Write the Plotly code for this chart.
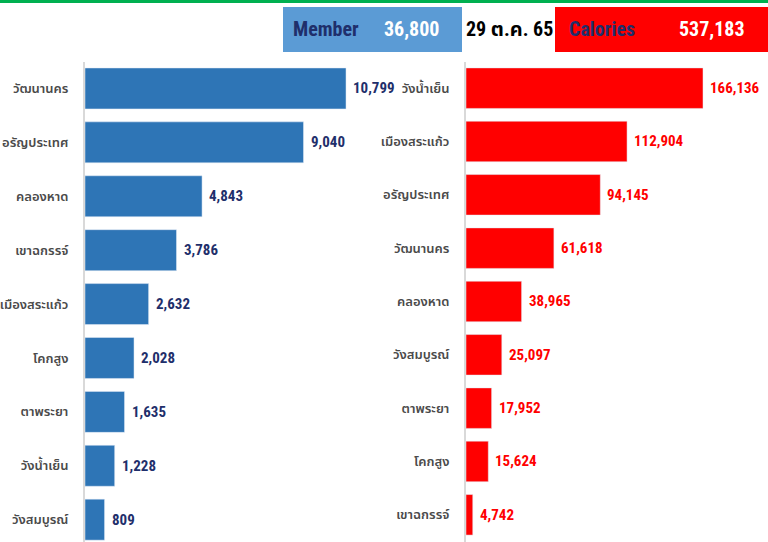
import plotly.graph_objects as go

# ---- data ----
member_districts = ["วัฒนานคร", "อรัญประเทศ", "คลองหาด", "เขาฉกรรจ์", "เมืองสระแก้ว",
                    "โคกสูง", "ตาพระยา", "วังน้ำเย็น", "วังสมบูรณ์"]
member_values = [10799, 9040, 4843, 3786, 2632, 2028, 1635, 1228, 809]

calorie_districts = ["วังน้ำเย็น", "เมืองสระแก้ว", "อรัญประเทศ", "วัฒนานคร", "คลองหาด",
                     "วังสมบูรณ์", "ตาพระยา", "โคกสูง", "เขาฉกรรจ์"]
calorie_values = [166136, 112904, 94145, 61618, 38965, 25097, 17952, 15624, 4742]

member_total = 36800
calorie_total = 537183
date_label = "29 ต.ค. 65"

W, H = 768, 542
FONT = "Liberation Sans Narrow, Roboto Condensed, Noto Sans Thai, Noto Sans, sans-serif"
NAVY = "#1f2f6b"
BLUE_BAR = "#2e75b6"
RED = "#ff0000"

def px(x):
    return x / W

def py(y):
    return 1 - y / H

fig = go.Figure()

fig.add_trace(go.Bar(
    x=member_values, y=member_districts, orientation="h",
    marker=dict(color=BLUE_BAR), xaxis="x", yaxis="y",
    hoverinfo="x+y", showlegend=False,
))
fig.add_trace(go.Bar(
    x=calorie_values, y=calorie_districts, orientation="h",
    marker=dict(color=RED), xaxis="x2", yaxis="y2",
    hoverinfo="x+y", showlegend=False,
))

annotations = []
for v, d in zip(member_values, member_districts):
    annotations.append(dict(x=v, y=d, xref="x", yref="y", text=f"<b>{v:,}</b>",
                            xanchor="left", yanchor="middle", xshift=5, showarrow=False,
                            font=dict(family=FONT, size=15, color=NAVY)))
for v, d in zip(calorie_values, calorie_districts):
    annotations.append(dict(x=v, y=d, xref="x2", yref="y2", text=f"<b>{v:,}</b>",
                            xanchor="left", yanchor="middle", xshift=5, showarrow=False,
                            font=dict(family=FONT, size=15, color=RED)))

# header boxes
shapes = [
    dict(type="rect", xref="paper", yref="paper", x0=0, x1=1, y0=py(3), y1=py(0),
         fillcolor="#00b050", line=dict(width=0), layer="above"),
    dict(type="rect", xref="paper", yref="paper", x0=px(283), x1=px(462), y0=py(52), y1=py(7),
         fillcolor="#5b9bd5", line=dict(width=0), layer="above"),
    dict(type="rect", xref="paper", yref="paper", x0=px(555), x1=px(768), y0=py(52), y1=py(7),
         fillcolor=RED, line=dict(width=0), layer="above"),
]
hdr = [
    ("Member", 326, NAVY),
    (f"{member_total:,}", 411, "white"),
    (date_label, 509, "black"),
    ("Calories", 602, NAVY),
    (f"{calorie_total:,}", 712, "white"),
]
for t, xc, c in hdr:
    annotations.append(dict(x=px(xc), y=py(29), xref="paper", yref="paper", text=f"<b>{t}</b>",
                            xanchor="center", yanchor="middle", showarrow=False,
                            font=dict(family=FONT, size=20, color=c)))

tickfont = dict(family=FONT, size=13, color="#4a4a4a", weight=600)
ydom = [0, py(61.5)]
fig.update_layout(
    width=W, height=H,
    margin=dict(l=0, r=0, t=0, b=0),
    paper_bgcolor="white", plot_bgcolor="white",
    bargap=0.24,
    xaxis=dict(domain=[px(85), px(380)], range=[0, 12205], visible=False, fixedrange=True),
    yaxis=dict(domain=ydom, range=[8.414, -0.5], anchor="x", showline=True, linecolor="#d9d9d9",
               linewidth=2, showgrid=False, ticks="", ticklabelstandoff=12, tickfont=tickfont),
    xaxis2=dict(domain=[px(466), 1], range=[0, 211700], visible=False, fixedrange=True, anchor="y2"),
    yaxis2=dict(domain=ydom, range=[8.51, -0.5], anchor="x2", showline=True, linecolor="#d9d9d9",
                linewidth=2, showgrid=False, ticks="", ticklabelstandoff=12, tickfont=tickfont),
    annotations=annotations,
    shapes=shapes,
)

fig.write_html("out.html", config={"displayModeBar": False},
               post_script="document.body.style.margin='0';document.body.style.overflow='hidden';")
